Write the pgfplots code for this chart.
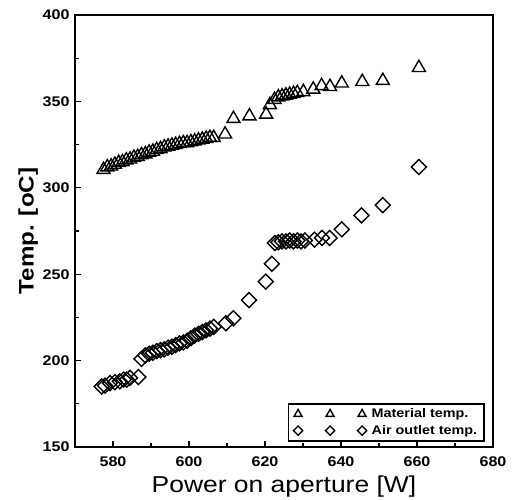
\documentclass[border=0pt]{standalone}
\usepackage{fontspec}
\setmainfont{Liberation Sans}[FakeStretch=1.15]
\usepackage{pgfplots}
\pgfplotsset{compat=1.18}

\pgfplotstableread{
x y
577.5 310.5
578.5 312
579.5 312.5
580.5 313.5
581.5 314.5
582.5 315
583.5 316
584.5 316.5
585.5 317.5
586.5 318
587.5 319
588.5 319.5
589.5 320.5
590.5 321
591.5 322
592.5 322.5
593.5 323.5
594.5 324
595.5 324.5
596.5 325
597.5 325.5
598.5 326
599.5 326
600.5 326.5
601.5 327
602.5 327.5
603.5 328
604.5 328.5
605.5 329
606.5 329
609.5 331
611.7 340
615.9 341.5
620.3 342.5
621.3 348
622.5 351
623.5 352.5
624.5 353
625.5 353.5
626.5 354
627.5 354.5
628.5 355
630.1 355.5
632.7 357
634.9 359
637.1 358.5
640.2 360.5
645.6 361.4
651.0 362
660.5 369.5
}\material

\pgfplotstableread{
x y
577.0 185
577.9 185.5
579.2 187
580.5 187.5
581.8 188
582.8 189
583.6 189
584.5 190
586.7 190.5
587.5 201
588.5 203
589.5 204
590.5 204.5
591.5 205.5
592.5 206
593.5 206.5
594.5 207.5
595.5 208
596.5 209
597.5 210
598.5 210.5
599.5 211.5
600.5 213
601.5 214.5
602.5 215.5
603.5 216.5
604.5 217.5
605.5 218.5
606.5 219.5
609.7 221.6
611.7 224.5
615.8 235
620.2 245.7
621.8 256
622.6 268
623.5 268.5
624.5 269
625.5 269
626.5 269.5
627.5 269
628.5 269.5
629.5 269
630.5 269.5
633.0 270
635.0 271
637.0 271
640.2 276
645.4 284
651.0 290
660.5 312
}\airoutlet

\begin{document}
\begin{tikzpicture}
\useasboundingbox (-75pt,-52pt) rectangle (439pt,447pt);
\begin{axis}[
  at={(0pt,0pt)}, anchor=south west,
  scale only axis, width=418pt, height=432pt,
  xmin=570, xmax=680, ymin=150, ymax=400,
  xtick={580,600,...,680}, ytick={150,200,...,400},
  minor x tick num=1, minor y tick num=1,
  tick align=inside, xtick pos=bottom, ytick pos=left,
  major tick length=6pt, minor tick length=4pt,
  axis line style={line width=1.8pt},
  every tick/.style={black, line width=1.2pt},
  tick label style={font=\fontsize{14}{17}\selectfont\bfseries},
  xticklabel style={yshift=-6pt},
  yticklabel style={xshift=-2pt},
  /pgf/number format/assume math mode=true,
  /pgf/number format/set thousands separator={},
  xlabel={Power on aperture [W]},
  ylabel={Temp. [oC]},
  every axis x label/.style={at={(axis description cs:0.5,-0.106)}, anchor=base, font=\fontsize{23}{28}\selectfont},
  every axis y label/.style={at={(axis description cs:-0.112,0.5)}, anchor=center, rotate=90, font=\fontsize{21}{26}\selectfont\bfseries},
  legend style={at={(0.981,0.012)}, anchor=south east, draw=black, line width=1.8pt,
    font=\fontsize{12.5}{15}\selectfont\bfseries, inner xsep=5pt, inner ysep=3pt,
    row sep=2pt, /tikz/every odd column/.append style={column sep=3pt}},
  legend cell align=left,
  legend image code/.code={\draw[mark repeat=1, /tikz/every mark/.append style={scale=0.62}] plot coordinates {(0pt,0pt) (32pt,0pt) (64pt,0pt)};},
]
\addplot[only marks, black, mark=triangle, mark size=7.5pt, line width=1.4pt] table {\material};
\addlegendentry{Material temp.}
\addplot[only marks, black, mark=square, mark size=5.3pt, mark options={rotate=45}, line width=1.4pt] table {\airoutlet};
\addlegendentry{Air outlet temp.}
\end{axis}
\end{tikzpicture}
\end{document}
